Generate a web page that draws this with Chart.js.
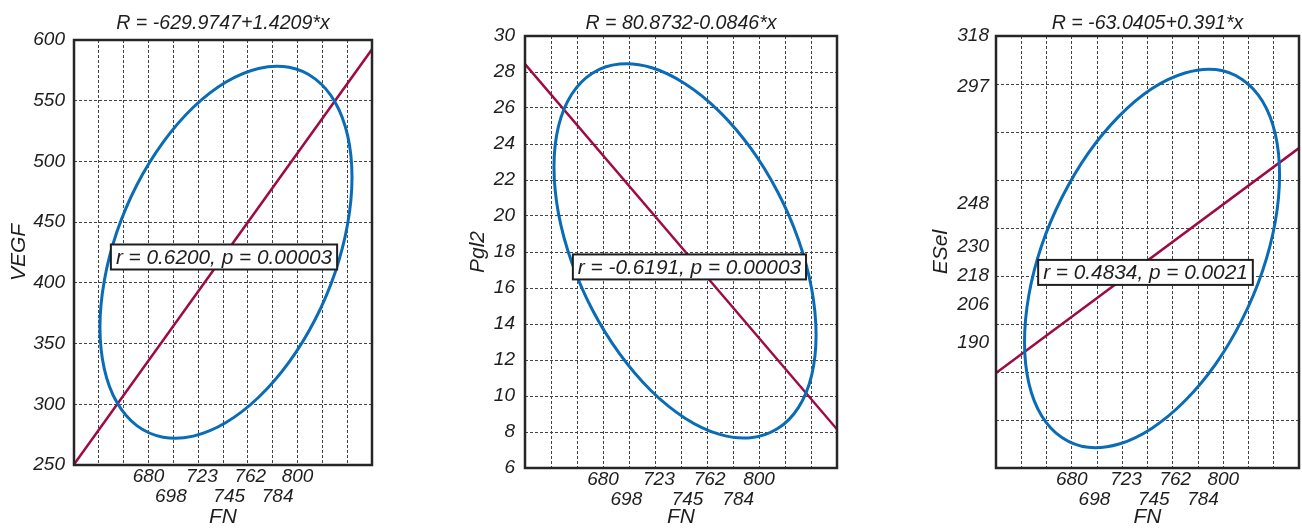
<!DOCTYPE html>
<html><head><meta charset="utf-8">
<script src="https://cdn.jsdelivr.net/npm/chart.js@4.4.1/dist/chart.umd.min.js"></script>
<style>
html,body{margin:0;padding:0;background:#fff;}
#wrap{position:relative;width:1302px;height:528px;overflow:hidden;background:#fff;}
canvas{position:absolute;top:0;}
</style></head><body>
<div id="wrap">
<canvas id="c1" width="434" height="528" style="left:0px"></canvas>
<canvas id="c2" width="434" height="528" style="left:434px"></canvas>
<canvas id="c3" width="434" height="528" style="left:868px"></canvas>
</div>
<script>
// ---------- shared x axis (FN) ----------
const xAxisName = 'FN';
const xGridMin = 620, xGridMax = 860, xGridStep = 20;
const xTickValues = [680, 698, 723, 745, 762, 784, 800];
const xTickLowerRow = [698, 745, 784];
const lineX = [620, 860];

// ---------- panel 1: VEGF ----------
const vegfTitle = 'R = -629.9747+1.4209*x';
const vegfStats = 'r = 0.6200, p = 0.00003';
const vegfYName = 'VEGF';
const vegfYRange = [250, 600, 50];
const vegfYTicks = [250, 300, 350, 400, 450, 500, 550, 600];
const vegfLineY = [250.5, 592.3];
const vegfEllipseX = [843.9, 840.4, 830.3, 814.2, 793.2, 768.7, 742.4, 716.1, 691.7, 670.6, 654.5, 644.4, 640.9, 644.4, 654.5, 670.6, 691.7, 716.1, 742.4, 768.7, 793.2, 814.2, 830.3, 840.4];
const vegfEllipseY = [487.0, 521.2, 548.8, 568.0, 577.5, 576.6, 565.4, 544.6, 515.7, 480.6, 441.8, 401.8, 363.4, 329.2, 301.6, 282.4, 272.9, 273.8, 285.0, 305.8, 334.7, 369.8, 408.6, 448.6];
const vegfStatsAt = [740.8, 421.3];

// ---------- panel 2: Pgl2 ----------
const pglTitle = 'R = 80.8732-0.0846*x';
const pglStats = 'r = -0.6191, p = 0.00003';
const pglYName = 'Pgl2';
const pglYRange = [6, 30, 2];
const pglYTicks = [6, 8, 10, 12, 14, 16, 18, 20, 22, 24, 26, 28, 30];
const pglLineY = [28.44, 8.15];
const pglEllipseX = [843.9, 840.5, 830.4, 814.4, 793.5, 769.2, 743.1, 717.0, 692.7, 671.8, 655.8, 645.7, 642.3, 645.7, 655.8, 671.8, 692.7, 717.0, 743.1, 769.2, 793.5, 814.4, 830.4, 840.5];
const pglEllipseY = [13.39, 15.96, 18.67, 21.33, 23.78, 25.83, 27.35, 28.25, 28.44, 27.93, 26.75, 24.97, 22.73, 20.16, 17.46, 14.79, 12.35, 10.29, 8.77, 7.88, 7.68, 8.19, 9.37, 11.15];
const pglStatsAt = [746.5, 17.17];

// ---------- panel 3: ESel ----------
const eselTitle = 'R = -63.0405+0.391*x';
const eselStats = 'r = 0.4834, p = 0.0021';
const eselYName = 'ESel';
const eselYRange = [138, 318, 20];
const eselYTicks = [190, 206, 218, 230, 248, 297, 318];
const eselLineY = [177.6, 271.3];
const eselEllipseX = [844.6, 841.2, 831.1, 815.0, 794.1, 769.7, 743.6, 717.5, 693.1, 672.2, 656.1, 646.0, 642.6, 646.0, 656.1, 672.2, 693.1, 717.5, 743.6, 769.7, 794.1, 815.0, 831.1, 841.2];
const eselEllipseY = [260.1, 277.2, 290.8, 299.9, 304.0, 302.6, 296.1, 284.6, 269.2, 250.7, 230.6, 210.0, 190.5, 173.4, 159.8, 150.7, 146.6, 148.0, 154.6, 166.0, 181.4, 199.9, 220.1, 240.6];
const eselStatsAt = [738.4, 219.5];

// ---------- styling / layout ----------
const FONT = "'Liberation Sans', Arial, Helvetica, sans-serif";
const NARROW = "'Liberation Sans Narrow', 'Arial Narrow', 'Liberation Sans', sans-serif";
const TEXT = '#1e1e1e';
const BLUE = '#0a6cb6';
const RED = '#9e0a44';
const GRID = '#444444';
const H = 528, W = 434;

const statsBox = {
  id: 'statsBox',
  afterDatasetsDraw(chart, args, o) {
    const ctx = chart.ctx;
    const cx = chart.scales.x.getPixelForValue(o.at[0]);
    const cy = chart.scales.y.getPixelForValue(o.at[1]);
    ctx.save();
    ctx.font = 'italic 20.8px ' + FONT;
    const w = ctx.measureText(o.text).width + 10, h = 25;
    ctx.fillStyle = '#fff';
    ctx.fillRect(cx - w / 2, cy - h / 2, w, h);
    ctx.lineWidth = 2;
    ctx.strokeStyle = TEXT;
    ctx.strokeRect(cx - w / 2, cy - h / 2, w, h);
    ctx.fillStyle = TEXT;
    ctx.textAlign = 'center';
    ctx.textBaseline = 'middle';
    ctx.fillText(o.text, cx, cy + 1);
    ctx.restore();
  },
  afterDraw(chart) {
    const {ctx, chartArea: a} = chart;
    ctx.save();
    ctx.lineWidth = 2.5;
    ctx.strokeStyle = '#262626';
    ctx.strokeRect(a.left, a.top, a.right - a.left, a.bottom - a.top);
    ctx.restore();
  }
};

// closed loop: one extra point on each side so the spline is smooth at the join
function loop(xs, ys) {
  const n = xs.length;
  const idx = [n - 1, ...xs.keys(), 0, 1];
  return idx.map(i => ({x: xs[i], y: ys[i]}));
}

function makeChart(id, p, L) {
  const pts = loop(p.ex, p.ey);
  const last = pts.length - 1;
  const tickFont = {family: FONT, size: 19, style: 'italic', lineHeight: 1.05};
  const titleFont = {family: NARROW, size: 21, style: 'italic', lineHeight: 1};
  return new Chart(document.getElementById(id), {
    type: 'line',
    data: {
      datasets: [
        {
          data: pts, xAxisID: 'x', yAxisID: 'y',
          borderColor: BLUE, borderWidth: 3, pointRadius: 0, tension: 0.34, fill: false,
          segment: {borderColor: c => (c.p0DataIndex === 0 || c.p1DataIndex === last) ? 'rgba(0,0,0,0)' : undefined}
        },
        {
          data: lineX.map((x, i) => ({x, y: p.lineY[i]})), xAxisID: 'x', yAxisID: 'y',
          borderColor: RED, borderWidth: 2.5, pointRadius: 0, tension: 0, fill: false
        }
      ]
    },
    options: {
      responsive: false, animation: false, events: [],
      layout: {padding: {left: L.padL, right: W - L.right, top: 0, bottom: 0}},
      plugins: {
        legend: {display: false}, tooltip: {enabled: false},
        title: {
          display: true, text: p.title, fullSize: false, color: TEXT,
          font: {family: FONT, size: 19.6, style: 'italic', weight: 'normal', lineHeight: 1.2},
          padding: {top: 11.5, bottom: L.top - 11.5 - 23.52}
        },
        statsBox: {text: p.stats, at: p.statsAt}
      },
      scales: {
        x: {
          type: 'linear', position: 'bottom', min: xGridMin, max: xGridMax,
          ticks: {display: false, stepSize: xGridStep},
          grid: {display: true, color: GRID, lineWidth: 1, drawTicks: false},
          border: {display: false, dash: [3, 2]},
          afterFit: s => { s.height = 0; }
        },
        xl: {
          type: 'linear', position: 'bottom', min: xGridMin, max: xGridMax,
          afterBuildTicks: s => { s.ticks = xTickValues.map(v => ({value: v})); },
          ticks: {
            autoSkip: false, maxRotation: 0, minRotation: 0, padding: 1.5, color: TEXT, font: tickFont,
            callback: v => xTickLowerRow.includes(v) ? ['', String(v)] : String(v)
          },
          grid: {display: false, drawTicks: false},
          border: {display: false},
          title: {display: true, text: xAxisName, color: TEXT, font: titleFont, padding: {top: 0, bottom: 0.5}},
          afterFit: s => { s.height = H - L.bottom; }
        },
        y: {
          type: 'linear', position: 'left', min: p.yRange[0], max: p.yRange[1],
          ticks: {display: false, stepSize: p.yRange[2]},
          grid: {display: true, color: GRID, lineWidth: 1, drawTicks: false},
          border: {display: false, dash: [3, 2]},
          afterFit: s => { s.width = 0; }
        },
        yl: {
          type: 'linear', position: 'left', min: p.yRange[0], max: p.yRange[1],
          afterBuildTicks: s => { s.ticks = p.yTicks.map(v => ({value: v})); },
          ticks: {autoSkip: false, padding: L.tickPad, color: TEXT, font: {family: FONT, size: 19, style: 'italic', lineHeight: 1.05}},
          grid: {display: false, drawTicks: false},
          border: {display: false},
          title: {display: true, text: p.yName, color: TEXT, font: titleFont, padding: {top: 0, bottom: 0}},
          afterFit: s => { s.width = L.left - L.padL; }
        }
      }
    },
    plugins: [statsBox]
  });
}

makeChart('c1', {title: vegfTitle, stats: vegfStats, statsAt: vegfStatsAt, yName: vegfYName, yRange: vegfYRange, yTicks: vegfYTicks, lineY: vegfLineY, ex: vegfEllipseX, ey: vegfEllipseY},
  {padL: 9, left: 74, right: 372, top: 40, bottom: 465, tickPad: 9});
makeChart('c2', {title: pglTitle, stats: pglStats, statsAt: pglStatsAt, yName: pglYName, yRange: pglYRange, yTicks: pglYTicks, lineY: pglLineY, ex: pglEllipseX, ey: pglEllipseY},
  {padL: 34, left: 91, right: 403, top: 36, bottom: 468, tickPad: 10});
makeChart('c3', {title: eselTitle, stats: eselStats, statsAt: eselStatsAt, yName: eselYName, yRange: eselYRange, yTicks: eselYTicks, lineY: eselLineY, ex: eselEllipseX, ey: eselEllipseY},
  {padL: 63, left: 128, right: 431, top: 36, bottom: 468, tickPad: 7});
</script>
</body></html>
